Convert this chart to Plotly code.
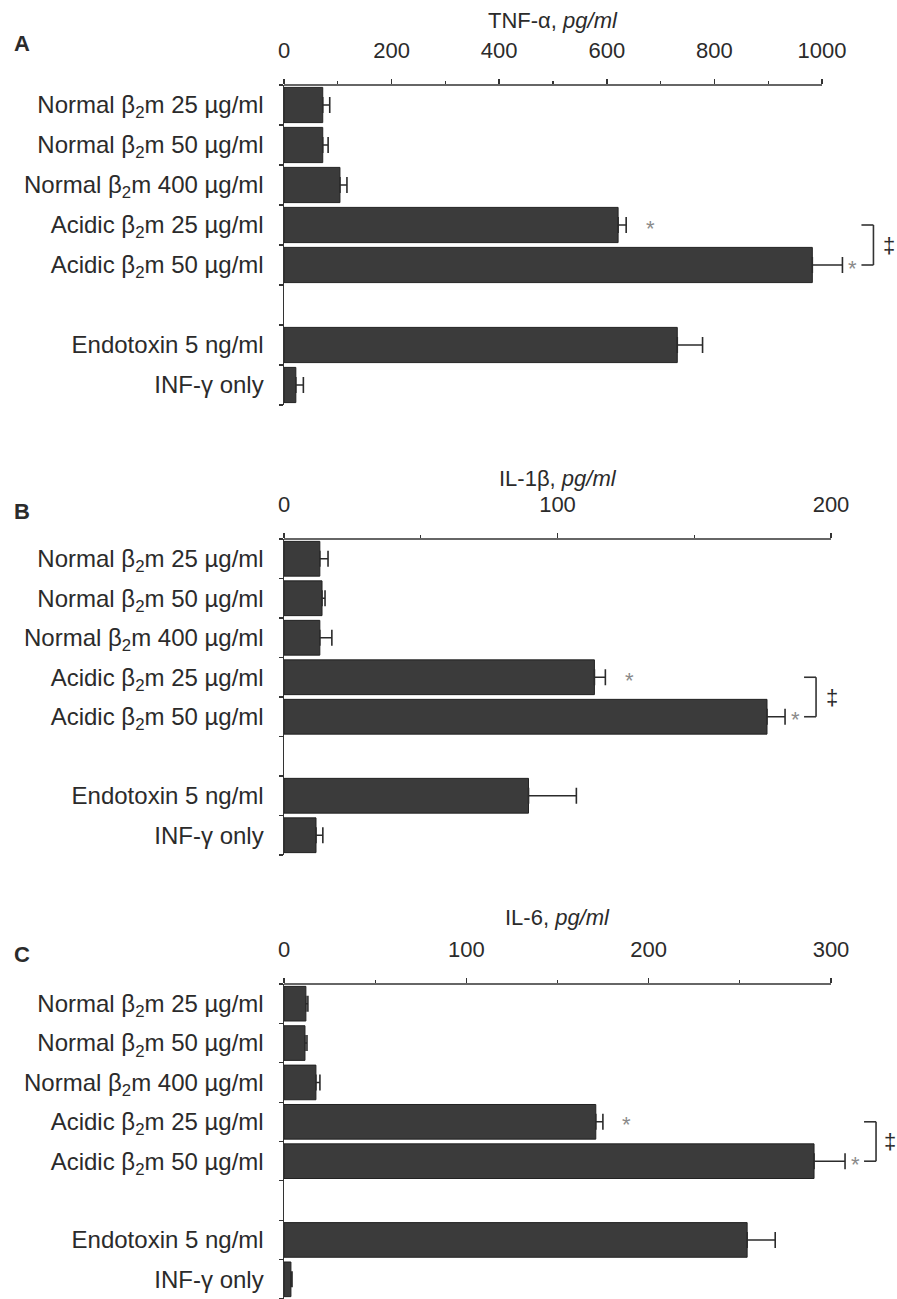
import plotly.graph_objects as go

# ---------------- data ----------------
categories = [
    "Normal β<sub>2</sub>m 25 µg/ml",
    "Normal β<sub>2</sub>m 50 µg/ml",
    "Normal β<sub>2</sub>m 400 µg/ml",
    "Acidic β<sub>2</sub>m 25 µg/ml",
    "Acidic β<sub>2</sub>m 50 µg/ml",
    "Endotoxin 5 ng/ml",
    "INF-γ only",
]
row_pos = [0, 1, 2, 3, 4, 6, 7]   # slot 5 is an empty gap

tnf_mean = [72, 72, 104, 621, 982, 731, 22]
tnf_sd = [13, 10, 13, 15, 56, 47, 14]

il1_mean = [13.1, 13.9, 13.1, 113.5, 176.6, 89.4, 11.7]
il1_sd = [3.0, 1.1, 4.4, 4.0, 6.6, 17.5, 2.5]

il6_mean = [12.0, 11.5, 17.5, 171, 290.7, 254, 3.8]
il6_sd = [1.1, 1.1, 2.2, 3.9, 17.0, 15.4, 0.6]

panel_letters = ["A", "B", "C"]
axis_titles = ["TNF-α, <i>pg/ml</i>", "IL-1β, <i>pg/ml</i>", "IL-6, <i>pg/ml</i>"]
axis_max = [1000, 200, 300]          # drawn axis line ends here
view_max = [1095, 215, 320]          # extra room so error bars past the axis show
major_dticks = [200, 100, 100]
minor_dticks = [100, 50, 50]

# ---------------- layout geometry (pixels) ----------------
W, H = 897, 1299
x_left_px = 284
x_right_px = [822, 831, 831]          # pixel of axis_max
y_top_px = [85, 539, 984]
y_bot_px = [405, 855, 1299]
title_y_px = [20, 479, 917]
letter_y_px = [43, 512, 954]

TXT = "#2b2b2b"
FONT = "Liberation Sans, Arial, Helvetica, sans-serif"

panels = [(tnf_mean, tnf_sd), (il1_mean, il1_sd), (il6_mean, il6_sd)]

fig = go.Figure()
annotations = []
shapes = []

for i, (mean, sd) in enumerate(panels):
    xa = "x" if i == 0 else f"x{i+1}"
    ya = "y" if i == 0 else f"y{i+1}"
    fig.add_trace(go.Bar(
        x=mean, y=row_pos, orientation="h",
        xaxis=xa, yaxis=ya, width=0.88,
        marker=dict(color="#3b3b3b", line=dict(color="#222222", width=1)),
        error_x=dict(type="data", symmetric=False, array=sd,
                     arrayminus=[0] * len(sd), width=8, thickness=1.6,
                     color="#2b2b2b"),
        showlegend=False, hoverinfo="skip",
    ))

    scale = (x_right_px[i] - x_left_px) / axis_max[i]

    def to_paper(v):
        return (x_left_px + v * scale) / W

    xd = [x_left_px / W, to_paper(view_max[i])]
    yd = [max(0.0, 1 - y_bot_px[i] / H), 1 - y_top_px[i] / H]
    xkey = "xaxis" if i == 0 else f"xaxis{i+1}"
    ykey = "yaxis" if i == 0 else f"yaxis{i+1}"
    fig.layout[xkey] = dict(
        domain=xd, range=[0, view_max[i]], side="top", anchor=ya,
        automargin=False, showline=False,
        ticks="outside", ticklen=5, tickwidth=1.5, tickcolor="#333333",
        tick0=0, dtick=major_dticks[i],
        minor=dict(ticks="outside", ticklen=3, tickwidth=1.2,
                   tickcolor="#333333", dtick=minor_dticks[i], tick0=0),
        tickfont=dict(size=22, color=TXT, family=FONT),
        ticklabelstandoff=12,
        showgrid=False, zeroline=False, fixedrange=True,
    )
    fig.layout[ykey] = dict(
        domain=yd, range=[7.5, -0.5], anchor=xa,
        automargin=False,
        showline=True, linecolor="#333333", linewidth=1.5,
        tickmode="array", tickvals=row_pos, ticktext=categories,
        ticks="",
        minor=dict(ticks="outside", ticklen=4, tickwidth=1.2,
                   tickcolor="#333333", tick0=-0.5, dtick=1),
        tickfont=dict(size=24, color=TXT, family=FONT),
        ticklabelstandoff=14,
        showgrid=False, zeroline=False, fixedrange=True,
    )

    # top axis line, ending at the last labelled tick
    shapes.append(dict(type="line", xref=xa, yref="paper",
                       x0=0, x1=axis_max[i], y0=yd[1], y1=yd[1],
                       line=dict(color="#333333", width=1.5)))

    # axis title and panel letter
    annotations.append(dict(
        text=axis_titles[i], xref="paper", yref="paper",
        x=(x_left_px + x_right_px[i]) / 2 / W, y=1 - title_y_px[i] / H,
        xanchor="center", yanchor="middle", showarrow=False,
        font=dict(size=22, color=TXT, family=FONT)))
    annotations.append(dict(
        text=f"<b>{panel_letters[i]}</b>", xref="paper", yref="paper",
        x=12 / W, y=1 - letter_y_px[i] / H,
        xanchor="left", yanchor="middle", showarrow=False,
        font=dict(size=22, color=TXT, family=FONT)))

    # significance asterisks next to the acidic bars
    for r, shift in ((3, 24), (4, 10)):
        annotations.append(dict(
            text="*", xref="paper", yref=ya,
            x=to_paper(mean[r] + sd[r]), y=row_pos[r],
            xanchor="center", yanchor="middle", xshift=shift, yshift=-3,
            showarrow=False, font=dict(size=22, color="#8a8a8a", family=FONT)))

    # bracket between the two acidic rows, just right of the tallest error bar
    end_px = x_left_px + (mean[4] + sd[4]) * scale
    arm = (end_px + 19) / W
    vert = (end_px + 31) / W
    for (xa0, ya0, xa1, ya1) in (
        (arm, row_pos[3], vert, row_pos[3]),
        (vert, row_pos[3], vert, row_pos[4]),
        (arm, row_pos[4], vert, row_pos[4]),
    ):
        shapes.append(dict(type="line", xref="paper", yref=ya,
                           x0=xa0, y0=ya0, x1=xa1, y1=ya1,
                           line=dict(color="#333333", width=1.6)))
    annotations.append(dict(
        text="‡", xref="paper", yref=ya,
        x=min(end_px + 47, W - 7) / W, y=(row_pos[3] + row_pos[4]) / 2,
        xanchor="center", yanchor="middle", showarrow=False,
        font=dict(size=22, color=TXT, family=FONT)))

fig.update_layout(
    width=W, height=H,
    margin=dict(l=0, r=0, t=0, b=0, autoexpand=False),
    paper_bgcolor="white", plot_bgcolor="white",
    annotations=annotations, shapes=shapes,
    font=dict(family=FONT, color=TXT),
    bargap=0,
)

fig.write_html(
    "out.html",
    config={"displayModeBar": False, "staticPlot": True},
    post_script="document.body.style.margin='0';document.body.style.overflow='hidden';",
)
